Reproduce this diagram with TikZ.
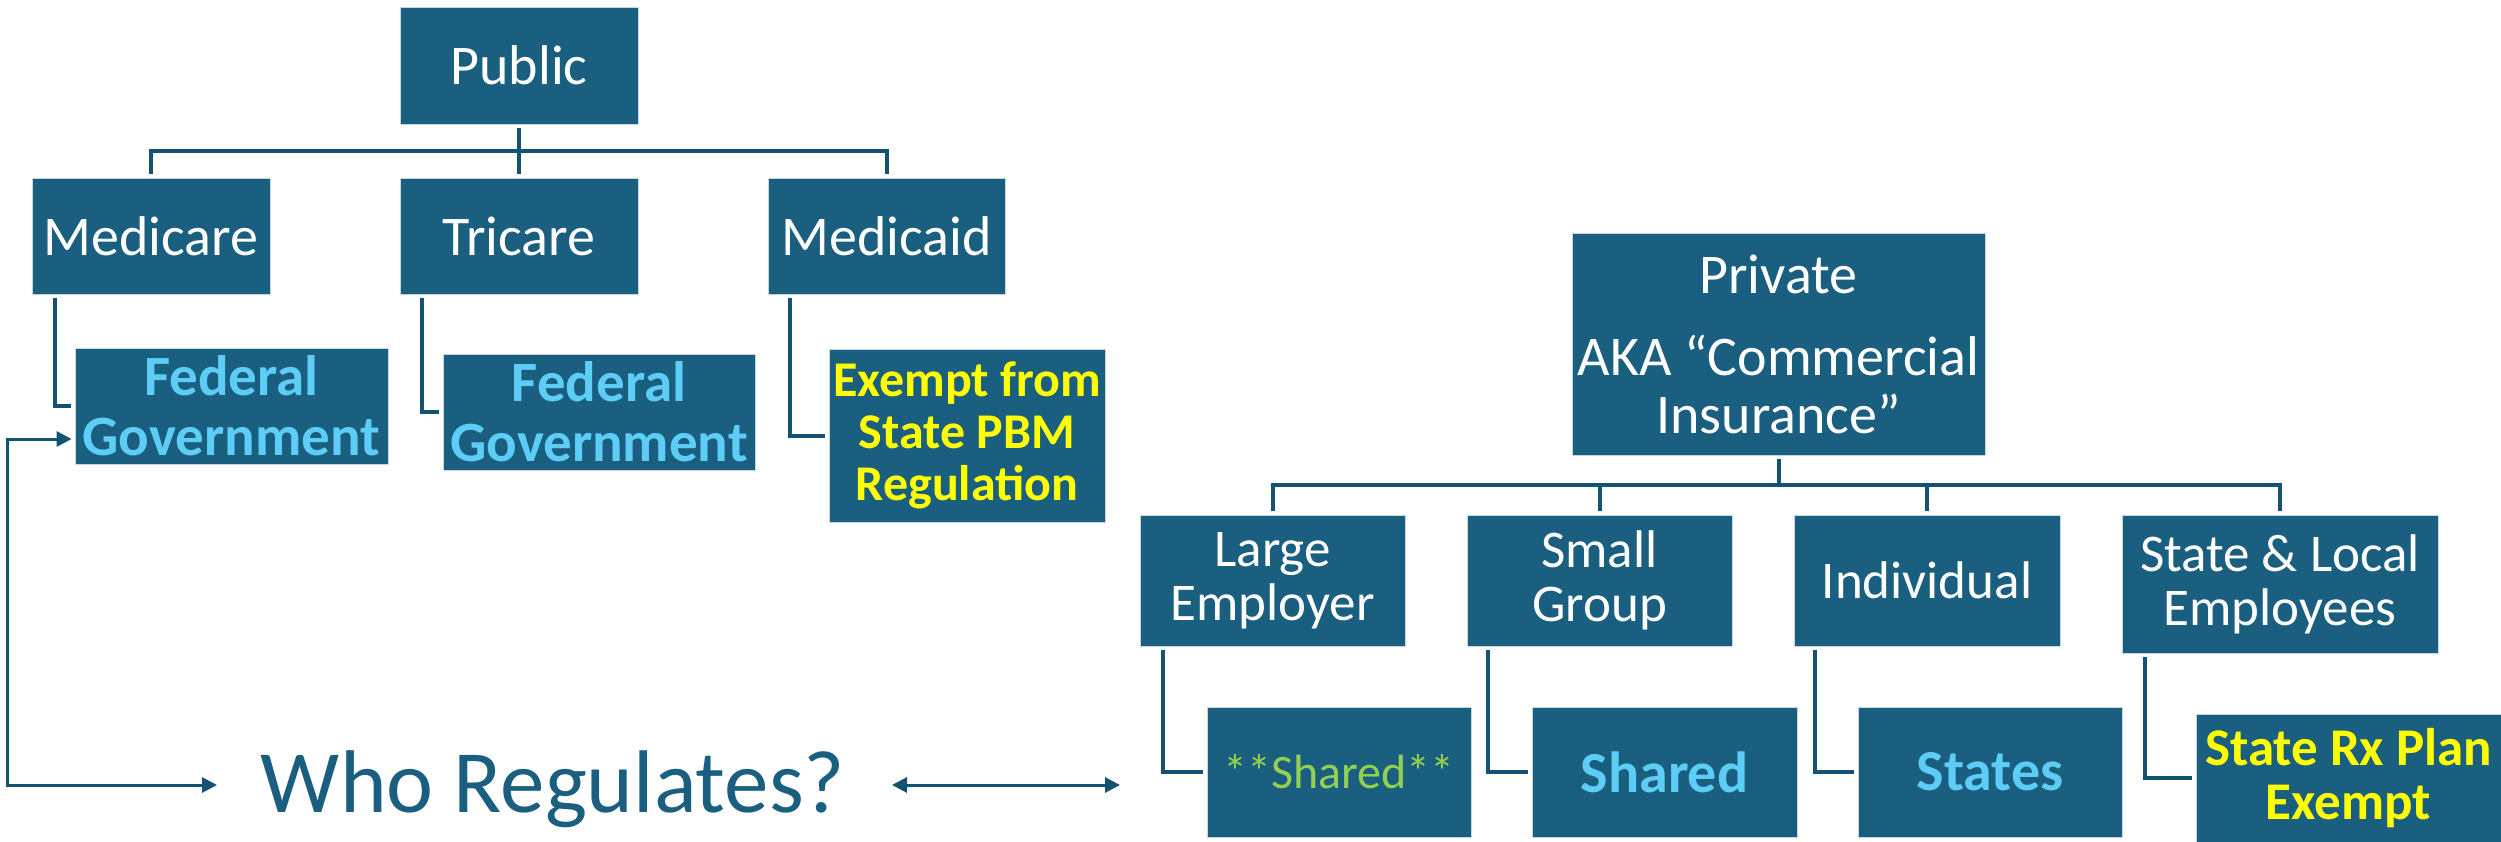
\documentclass[tikz,border=0pt]{standalone}
\usepackage{fontspec}
\setmainfont{Carlito}
\usetikzlibrary{arrows.meta,calc}
\definecolor{boxc}{HTML}{1A5F80}
\definecolor{connc}{HTML}{145271}
\definecolor{lblue}{HTML}{5DCDF5}
\definecolor{lgreen}{HTML}{92D050}
\definecolor{yel}{HTML}{FFFF00}
\newcommand\myfs[2]{\fontsize{#1}{#2}\selectfont}
\begin{document}
\begin{tikzpicture}[x=1pt,y=-1pt,
  bx/.style={fill=boxc,draw=white!75!boxc,line width=0.8pt,inner sep=0pt,align=center,text=white},
  lvl/.style={bx,font=\myfs{56}{58}},
  sub/.style={bx,font=\myfs{53}{54}},
  fedt/.style={bx,text=lblue,font=\myfs{57}{60}\bfseries},
  yelt/.style={bx,text=yel,font=\myfs{50}{52}\bfseries},
  conn/.style={draw=connc,line width=4pt,shorten <=4pt,shorten >=4pt},
  elb/.style={draw=connc,line width=4pt,shorten <=4pt,shorten >=4pt},
  arr/.style={draw=connc,line width=3pt,{Triangle[length=15pt,width=15pt]}-{Triangle[length=15pt,width=15pt]}}
]
\useasboundingbox (0,0) rectangle (2501,842);

% public tree
\node[lvl,minimum width=238pt,minimum height=117pt] (pub) at (519,65.5) {Public};
\node[lvl,minimum width=238pt,minimum height=116pt] (med) at (151,236) {Medicare};
\node[lvl,minimum width=238pt,minimum height=116pt] (tri) at (519,236) {Tricare};
\node[lvl,minimum width=237pt,minimum height=116pt] (mcd) at (886.5,236) {Medicaid};

\node[fedt,minimum width=313pt,minimum height=116pt] (fed1) at (231.5,406) {Federal\\Government};
\node[fedt,minimum width=312pt,minimum height=116pt] (fed2) at (599,412) {Federal\\Government};
\node[yelt,minimum width=276pt,minimum height=173pt] (exm) at (967,435.5) {Exempt from\\State PBM\\Regulation};

\draw[conn] (pub.south) -- ++(0,27) -| (med.north);
\draw[conn] (pub.south) -- (tri.north);
\draw[conn] (pub.south) -- ++(0,27) -| (mcd.north);

\draw[elb] ($(med.south west)+(23,0)$) |- (fed1.west);
\draw[elb] ($(tri.south west)+(22,0)$) |- (fed2.west);
\draw[elb] ($(mcd.south west)+(22,0)$) |- (exm.west);

% private tree
\node[lvl,minimum width=413pt,minimum height=222pt] (prv) at (1778.5,344) {Private\\[24pt]AKA “Commercial\\Insurance”};
\node[sub,minimum width=265pt,minimum height=131pt] (lrg) at (1272.5,580.5) {Large\\Employer};
\node[sub,minimum width=265pt,minimum height=131pt] (sml) at (1599.5,580.5) {Small\\Group};
\node[sub,minimum width=266pt,minimum height=131pt] (ind) at (1927,580.5) {Individual};
\node[sub,minimum width=316pt,minimum height=138pt] (sle) at (2280,584) {State \& Local\\Employees};

\node[bx,text=lgreen,font=\myfs{48}{50},minimum width=264pt,minimum height=130pt] (sh1) at (1339,772) {**Shared**};
\node[bx,text=lblue,font=\myfs{58}{60}\bfseries,minimum width=265pt,minimum height=130pt] (sh2) at (1664.5,772) {Shared};
\node[bx,text=lblue,font=\myfs{58}{60}\bfseries,minimum width=264pt,minimum height=130pt] (sts) at (1990,772) {States};
\node[bx,text=yel,font=\myfs{53}{54}\bfseries,minimum width=305pt,minimum height=128pt] (srx) at (2348.5,778) {State Rx Plan\\Exempt};

\draw[conn] (prv.south) -- ++(0,30) -| (lrg.north);
\draw[conn] (prv.south) -- ++(0,30) -| (sml.north);
\draw[conn] (prv.south) -- ++(0,30) -| (ind.north);
\draw[conn] (prv.south) -- ++(0,30) -| (sle.north);

\draw[elb] ($(lrg.south west)+(23,0)$) |- (sh1.west);
\draw[elb] ($(sml.south west)+(21.5,0)$) |- (sh2.west);
\draw[elb] ($(ind.south west)+(21,0)$) |- (sts.west);
\draw[elb] ($(sle.south west)+(23,0)$) |- (srx.west);

% who regulates
\node[text=boxc,font=\myfs{89}{90},inner sep=0pt,anchor=base] (who) at (553,812) {Who Regulates?};
\coordinate (lc) at (7.5,785);
\coordinate (wl) at (217,785);
\coordinate (dl) at (892,785);
\coordinate (dr) at (1120,785);
\draw[arr,shorten <=3pt] ($(fed1.west)+(0,33)$) -| (lc) -- (wl);
\draw[arr] (dl) -- (dr);
\end{tikzpicture}
\end{document}
